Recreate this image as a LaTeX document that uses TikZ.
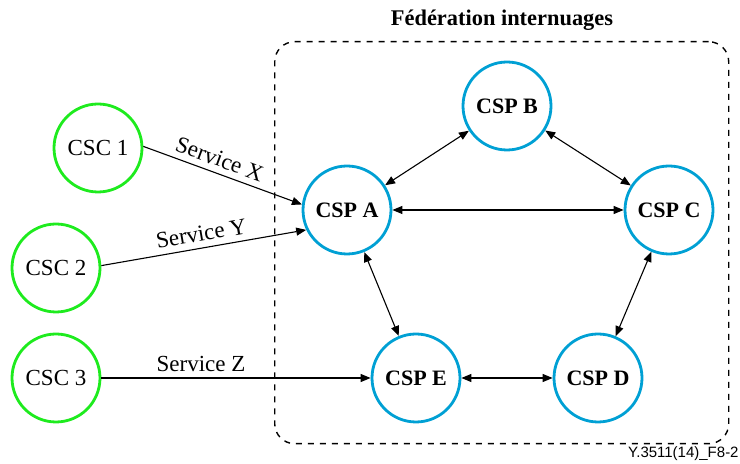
\documentclass[tikz,border=0pt]{standalone}
\usepackage{fontspec}
\setmainfont{Liberation Serif}
\newfontfamily\footfont{Liberation Sans}
\usetikzlibrary{arrows.meta}
\definecolor{cscgreen}{RGB}{30,235,30}
\definecolor{cspblue}{RGB}{0,160,212}
\begin{document}
\begin{tikzpicture}[x=0.5pt,y=-0.5pt,
  csc/.style={circle,draw=cscgreen,line width=1.4pt,minimum size=44pt,inner sep=0pt,font=\fontsize{11.5}{13}\selectfont},
  csp/.style={circle,draw=cspblue,line width=1.4pt,minimum size=44pt,inner sep=0pt,font=\fontsize{11}{13}\selectfont\bfseries},
  link/.style={line width=0.55pt,-{Triangle[length=5pt,width=4pt]}},
  blink/.style={line width=0.55pt,{Triangle[length=5pt,width=4pt]}-{Triangle[length=5pt,width=4pt]}},
  lbl/.style={font=\fontsize{11.5}{13}\selectfont,inner sep=3pt}]
\useasboundingbox (0,0) rectangle (740,464);
\node[draw,dashed,line width=0.7pt,rounded corners=10pt,minimum width=227pt,minimum height=201pt,anchor=north west] (fed) at (274,41) {};
\node[font=\fontsize{11.2}{13}\selectfont\bfseries] (title) at (502,20) {Fédération internuages};
\node[csc] (c1) at (98,148) {CSC 1};
\node[csc] (c2) at (56,268) {CSC 2};
\node[csc] (c3) at (56,378) {CSC 3};
\node[csp] (b) at (507,106) {CSP B};
\node[csp] (a) at (347,210) {CSP A};
\node[csp] (c) at (669,210) {CSP C};
\node[csp] (e) at (416,378) {CSP E};
\node[csp] (d) at (598,378) {CSP D};
\draw[link] (c1.2) -- node[lbl,above,sloped,pos=0.45] {Service X} (a.173);
\draw[link] (c2.3) -- node[lbl,above,sloped,pos=0.5] {Service Y} (a.206);
\draw[link] (c3) -- node[lbl,above,pos=0.37] {Service Z} (e);
\draw[blink] (a) -- (b);
\draw[blink] (b) -- (c);
\draw[blink] (a) -- (c);
\draw[blink] (a) -- (e);
\draw[blink] (c) -- (d);
\draw[blink] (e) -- (d);
\node[font=\footfont\fontsize{7.5}{8}\selectfont,anchor=east,inner sep=0pt] (foot) at (739,454) {Y.3511(14)\_F8-2};
\end{tikzpicture}
\end{document}
